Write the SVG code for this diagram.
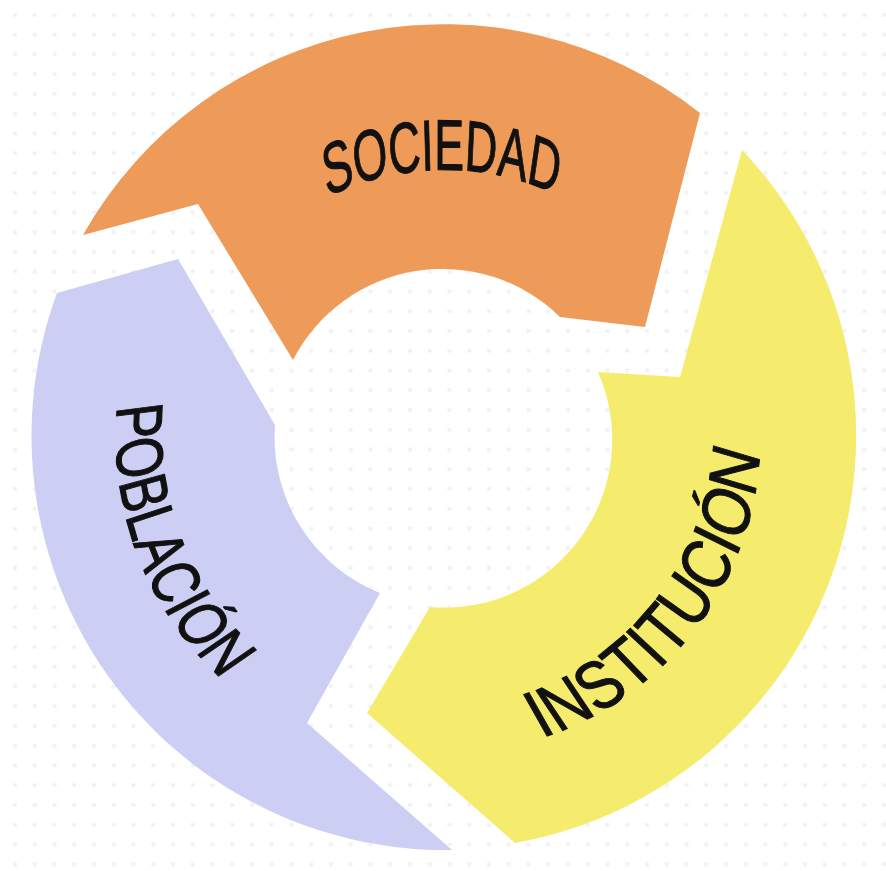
<svg xmlns="http://www.w3.org/2000/svg" width="886" height="871" viewBox="0 0 886 871">
  <defs>
    <pattern id="dots" x="5.1" y="5.1" width="19.75" height="19.75" patternUnits="userSpaceOnUse">
      <circle cx="9.9" cy="9.9" r="2.3" fill="#f2f2f6"/>
    </pattern>
    <style>
      .seg { stroke: none; }
      .lbl { font-family: "Liberation Sans", Arial, sans-serif; fill: #111111; stroke: #111111; stroke-width: 1.1; }
    </style>
  </defs>
  <rect x="0" y="0" width="886" height="871" fill="#ffffff"/>
  <rect x="0" y="0" width="886" height="871" fill="url(#dots)"/>

  <g id="node-sociedad">
    <path class="seg" fill="#EE9A58" d="M83,235 A414,414 0 0 1 700,113 L645,327 L560,317 A168,168 0 0 0 293,360 L198,204 Z"/>
    <g transform="translate(444,437.5) rotate(-90.5) scale(1,0.62)">
      <path id="p-soc" d="M133.5,-373.5 A267,430.6 0 0 1 133.5,373.5" fill="none"/>
      <text class="lbl" font-size="72"><textPath href="#p-soc" startOffset="50%" text-anchor="middle">SOCIEDAD</textPath></text>
    </g>
  </g>

  <g id="node-institucion">
    <path class="seg" fill="#F5EC6E" d="M742,150 L680,377 L598,372 A168,168 0 0 1 430,607 L367,713 L515,843 A414,414 0 0 0 742,150 Z"/>
    <g transform="translate(444,437.5) rotate(37.5) scale(1,0.81)">
      <path id="p-ins" d="M158,337.8 A316,390.1 0 0 0 158,-337.8" fill="none"/>
      <text class="lbl" font-size="72"><textPath href="#p-ins" startOffset="50%" text-anchor="middle">INSTITUCIÓN</textPath></text>
    </g>
  </g>

  <g id="node-poblacion">
    <path class="seg" fill="#CDCEF3" d="M57,293 L178,259 L275,425 A168,168 0 0 0 380,593 L307,723 L452,850 A414,414 0 0 1 57,293 Z"/>
    <g transform="translate(444,437.5) rotate(159) scale(1,0.75)">
      <path id="p-pob" d="M164,378.7 A328,437.3 0 0 0 164,-378.7" fill="none"/>
      <text class="lbl" font-size="68"><textPath href="#p-pob" startOffset="50%" text-anchor="middle">POBLACIÓN</textPath></text>
    </g>
  </g>

  <g id="connectors"></g>
</svg>
